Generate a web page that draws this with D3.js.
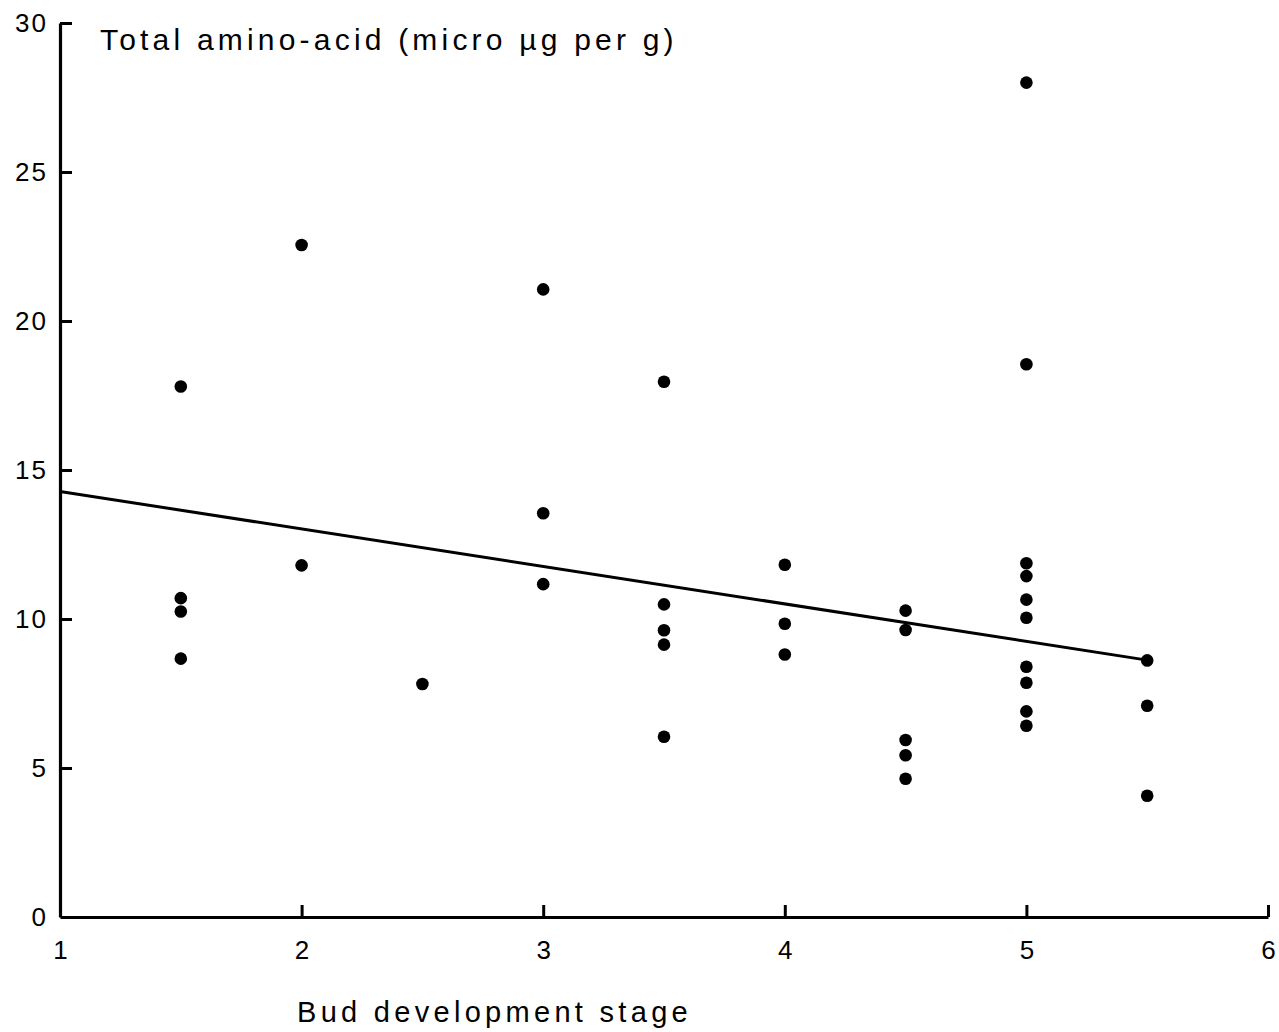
<!DOCTYPE html>
<html>
<head>
<meta charset="utf-8">
<script src="https://cdn.jsdelivr.net/npm/d3@7"></script>
<style>
  body { margin: 0; background: #fff; }
  svg text { font-family: "Liberation Sans", Arial, sans-serif; fill: #000; }
</style>
</head>
<body>
<svg id="chart"></svg>
<script>
// bud stage (x) and total amino acid (y)
var stages = [1.5, 1.5, 1.5, 1.5,
              2, 2,
              2.5,
              3, 3, 3,
              3.5, 3.5, 3.5, 3.5, 3.5,
              4, 4, 4,
              4.5, 4.5, 4.5, 4.5, 4.5,
              5, 5, 5, 5, 5, 5, 5, 5, 5, 5,
              5.5, 5.5, 5.5];
var aminoAcid = [17.8, 10.7, 10.25, 8.67,
                 22.55, 11.8,
                 7.82,
                 21.06, 13.55, 11.17,
                 17.96, 10.49, 9.62, 9.14, 6.05,
                 11.82, 9.84, 8.81,
                 10.28, 9.63, 5.94, 5.43, 4.64,
                 28.0, 18.55, 11.87, 11.44, 10.65, 10.04, 8.4, 7.86, 6.9, 6.42,
                 8.61, 7.09, 4.07];
// fitted line end points
var fitX = [1, 5.5];
var fitY = [14.28, 8.62];
var xTicks = [1, 2, 3, 4, 5, 6];
var yTicks = [0, 5, 10, 15, 20, 25, 30];

var svg = d3.select("#chart")
  .attr("width", 1279)
  .attr("height", 1032);

var xScale = d3.scaleLinear().domain([1, 6]).range([60, 1268]);
var yScale = d3.scaleLinear().domain([0, 30]).range([917, 23]);

var xAxis = d3.axisBottom(xScale)
  .tickValues(xTicks)
  .tickSize(-12)
  .tickSizeOuter(0)
  .tickPadding(24)
  .tickFormat(d3.format("d"));
var yAxis = d3.axisLeft(yScale)
  .tickValues(yTicks)
  .tickSize(-12)
  .tickSizeOuter(0)
  .tickPadding(12)
  .tickFormat(d3.format("d"));

var gx = svg.append("g")
  .attr("transform", "translate(0,917)")
  .call(xAxis);
var gy = svg.append("g")
  .attr("transform", "translate(60,0)")
  .call(yAxis);

[gx, gy].forEach(function(g) {
  g.select(".domain").attr("stroke", "#000").attr("stroke-width", 3.2);
  g.selectAll(".tick line").attr("stroke", "#000").attr("stroke-width", 3);
  g.selectAll(".tick text")
    .attr("fill", "#000")
    .attr("font-size", 26)
    .attr("font-family", "DejaVu Sans, sans-serif");
});
gy.selectAll(".tick text").attr("letter-spacing", "2px");
// hide the ticks that sit on the corner
gx.selectAll(".tick").filter(function(d) { return d === 1; }).select("line").remove();
gy.selectAll(".tick").filter(function(d) { return d === 0; }).select("line").remove();

// regression line
svg.append("line")
  .attr("x1", xScale(fitX[0]))
  .attr("y1", yScale(fitY[0]))
  .attr("x2", xScale(fitX[1]))
  .attr("y2", yScale(fitY[1]))
  .attr("stroke", "#000")
  .attr("stroke-width", 3);

svg.append("g")
  .selectAll(".dot")
  .data(stages)
  .enter().append("circle")
    .attr("class", "dot")
    .attr("cx", function(d) { return xScale(d); })
    .attr("cy", function(d, i) { return yScale(aminoAcid[i]); })
    .attr("r", 6.3)
    .style("fill", "#000");

svg.append("text")
  .attr("x", 100)
  .attr("y", 50)
  .attr("font-size", 30)
  .attr("letter-spacing", "4.2px")
  .text("Total amino-acid (micro \u00b5g per g)");

svg.append("text")
  .attr("x", 297)
  .attr("y", 1022)
  .attr("font-size", 29)
  .attr("letter-spacing", "4.3px")
  .text("Bud development stage");
</script>
</body>
</html>
